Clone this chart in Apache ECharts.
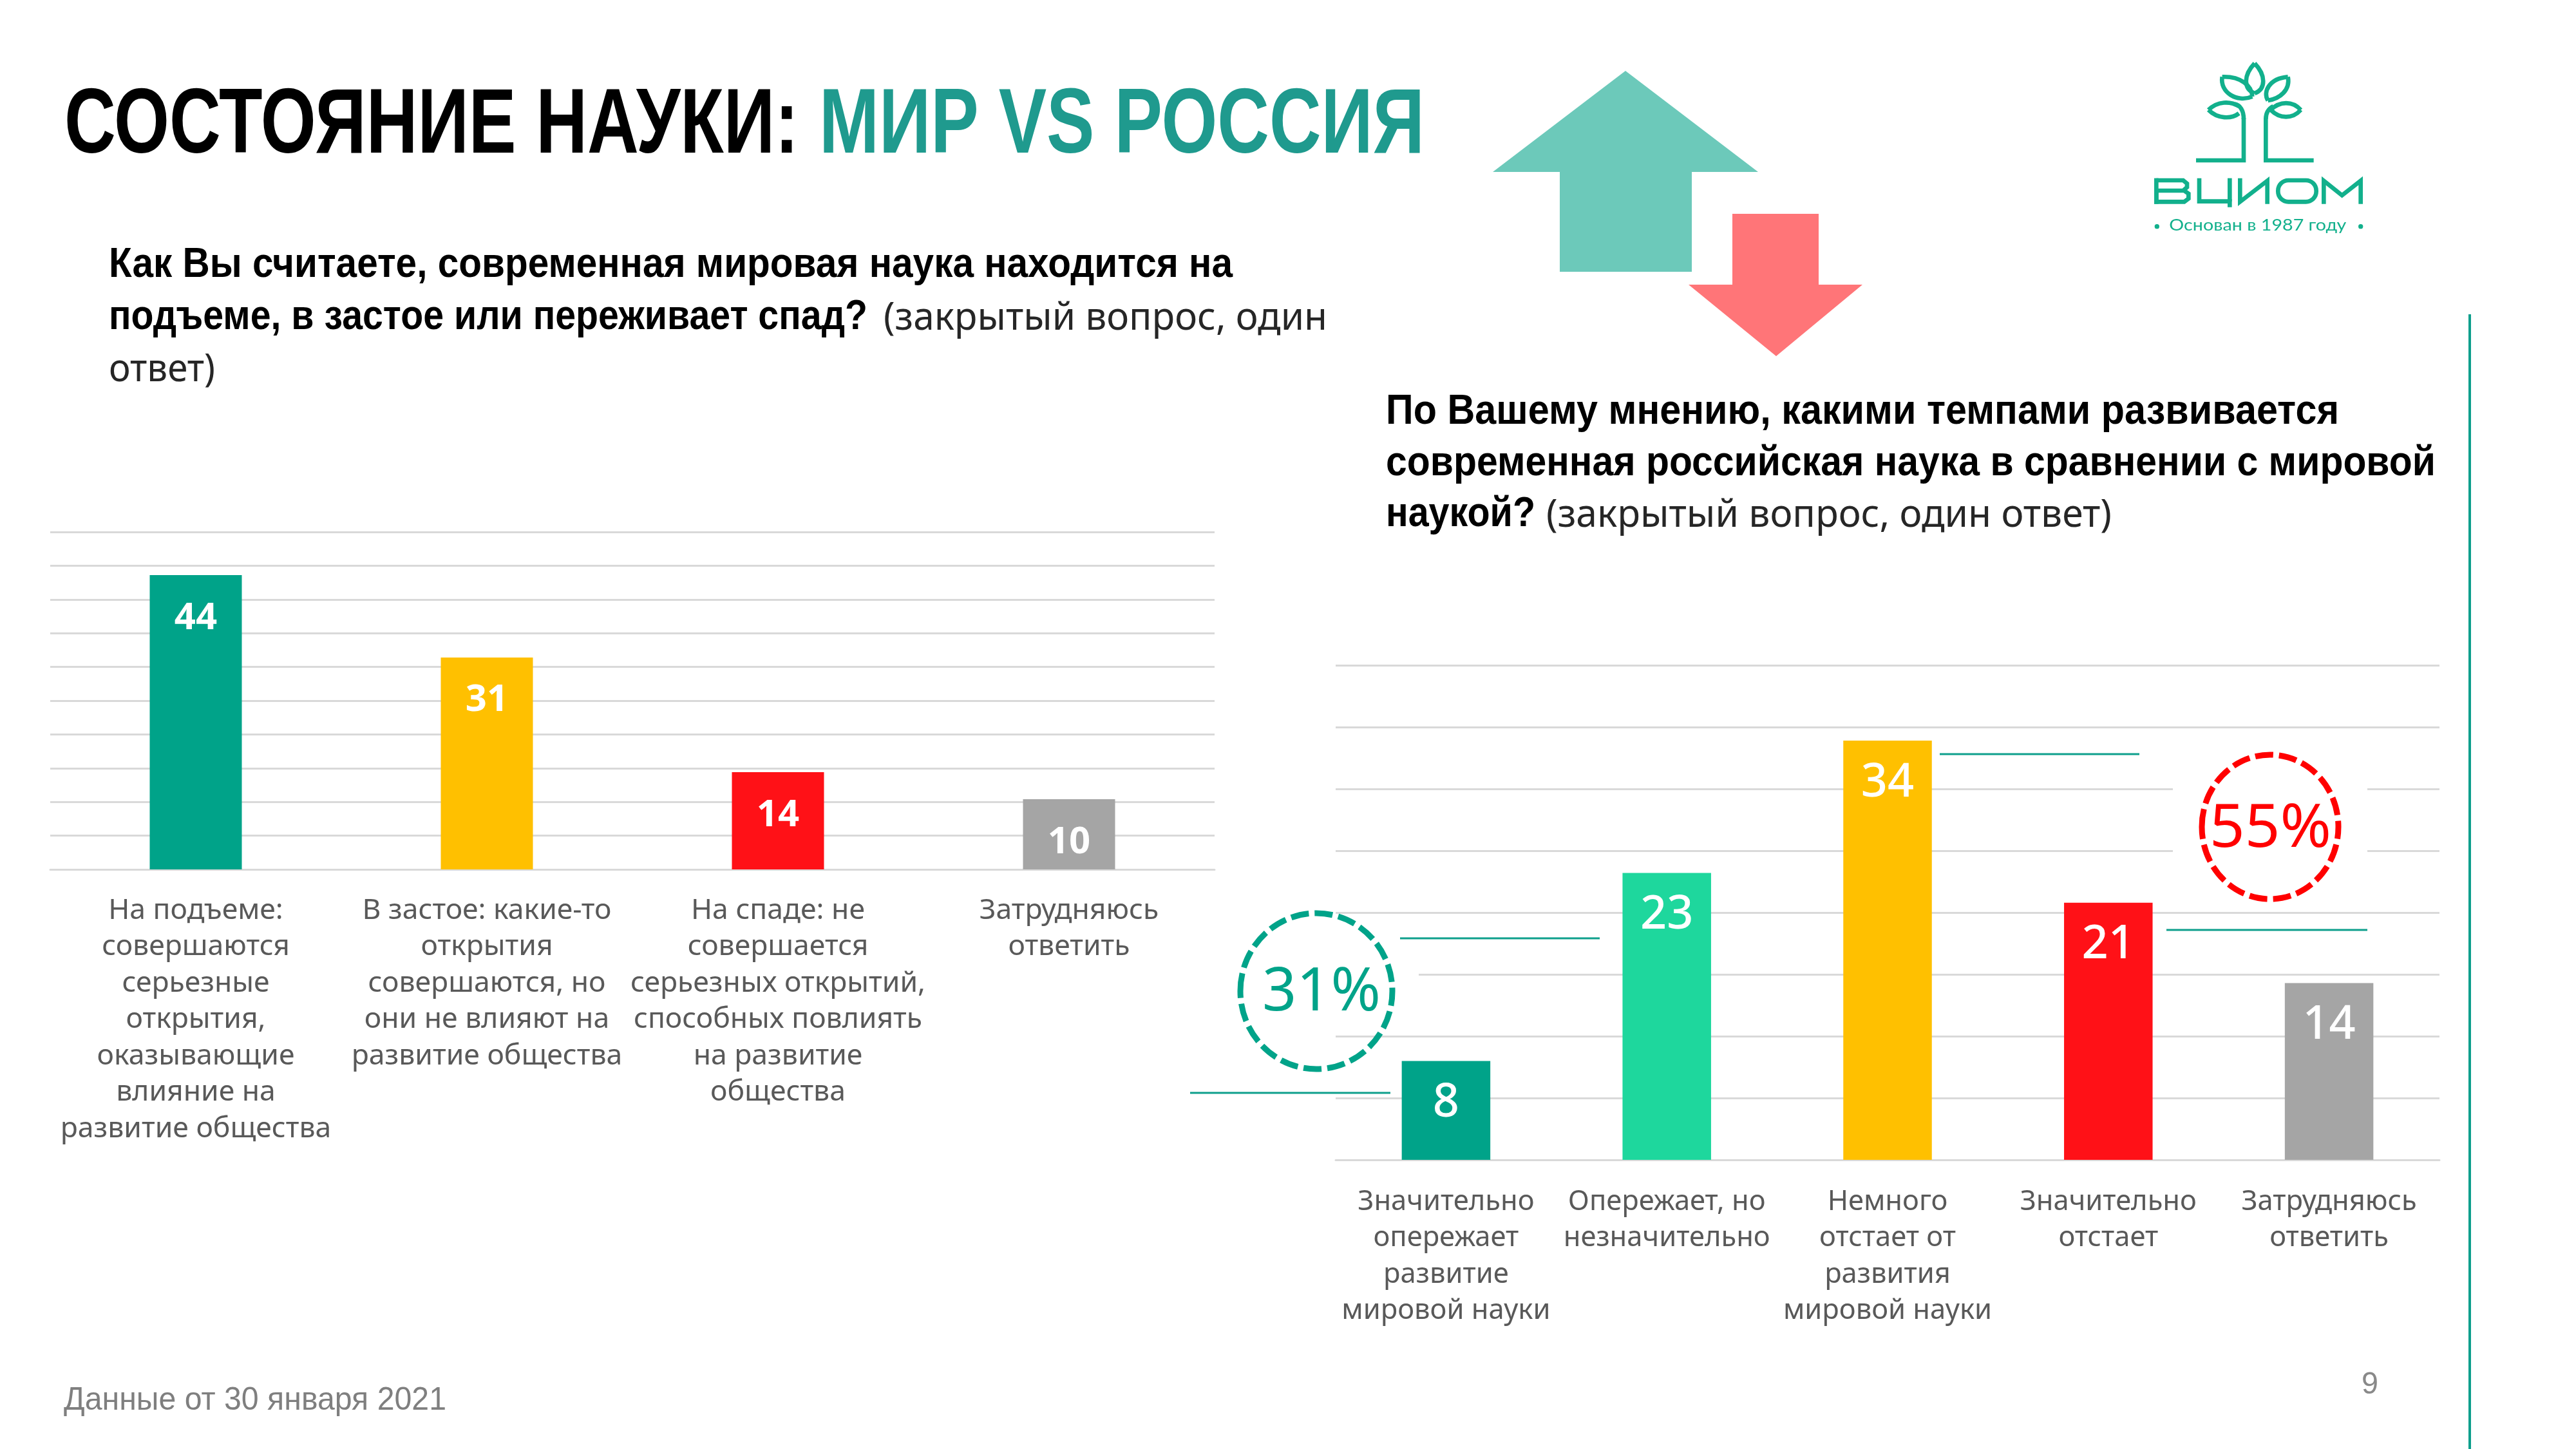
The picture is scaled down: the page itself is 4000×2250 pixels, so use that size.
<!DOCTYPE html>
<html>
<head>
<meta charset="utf-8">
<title>Состояние науки</title>
<script src="https://cdn.jsdelivr.net/npm/echarts@6/dist/echarts.min.js"></script>
<style>
  html, body { margin: 0; padding: 0; background: #fff; }
  #main { width: 4000px; height: 2250px; }
</style>
</head>
<body>
<div id="main"></div>
<script>
const worldCategories = [
  'На подъеме:\nсовершаются\nсерьезные\nоткрытия,\nоказывающие\nвлияние на\nразвитие общества',
  'В застое: какие-то\nоткрытия\nсовершаются, но\nони не влияют на\nразвитие общества',
  'На спаде: не\nсовершается\nсерьезных открытий,\nспособных повлиять\nна развитие\nобщества',
  'Затрудняюсь\nответить'
];
const worldValues = [43.6, 31.4, 14.4, 10.4];
const worldColors = ['#00A389', '#FFC000', '#FF1117', '#A5A5A5'];

const russiaCategories = [
  'Значительно\nопережает\nразвитие\nмировой науки',
  'Опережает, но\nнезначительно',
  'Немного\nотстает от\nразвития\nмировой науки',
  'Значительно\nотстает',
  'Затрудняюсь\nответить'
];
const russiaValues = [8, 23.2, 33.9, 20.8, 14.3];
const russiaColors = ['#00A389', '#1ED79D', '#FFC000', '#FF1117', '#A5A5A5'];

const GREY = '#D9D9D9';
const TEAL = '#00A389';
const LOGO = '#12B08C';
const BOLD = 'bold 64px "Liberation Sans"';
const REG = '60px "Noto Sans"';

const ctx = document.createElement('canvas').getContext('2d');

// text run squeezed to the width it has in the picture
function run(text, x, base, width, font, fill, z) {
  ctx.font = font;
  const size = parseInt(font.match(/(\d+)px/)[1], 10);
  return {
    type: 'text', x: x, y: base - 0.34 * size, z: z || 10,
    scaleX: width / ctx.measureText(text).width,
    style: { text: text, font: font, fill: fill, textAlign: 'left', textVerticalAlign: 'middle' }
  };
}
function hline(x1, x2, y) {
  return { type: 'line', z: 10, shape: { x1: x1, y1: y, x2: x2, y2: y }, style: { stroke: '#0E9F8C', lineWidth: 3 } };
}
function mask(x, y, w, h) {
  return { type: 'rect', z: 5, shape: { x: x, y: y, width: w, height: h }, style: { fill: '#fff' } };
}
function ring(cx, cy, rx, ry, color) {
  return {
    type: 'ellipse', z: 10, shape: { cx: cx, cy: cy, rx: rx, ry: ry },
    style: { fill: 'none', stroke: color, lineWidth: 9, lineDash: [28, 9] }
  };
}
function arrow(points, fill) {
  return { type: 'polygon', z: 10, shape: { points: points }, style: { fill: fill } };
}

// logo is drawn in the coordinates of a 3x crop, then scaled down
const logoStroke = { fill: 'none', stroke: LOGO, lineWidth: 20 };
function curve(x1, y1, cx1, cy1, cx2, cy2, x2, y2) {
  return { type: 'bezierCurve', shape: { x1: x1, y1: y1, cpx1: cx1, cpy1: cy1, cpx2: cx2, cpy2: cy2, x2: x2, y2: y2 }, style: logoStroke };
}
function poly(points) {
  return { type: 'polyline', shape: { points: points }, style: logoStroke };
}
function buildLogo() {
  const tagFont = '76px "Lato"';
  const tag = run('Основан в 1987 году', 205, 925, 825, tagFont, LOGO);
  return {
    type: 'group', x: 3300, y: 50, scaleX: 1 / 3, scaleY: 1 / 3, z: 10,
    children: [
      curve(603, 145, 550, 200, 550, 265, 603, 285), curve(603, 145, 656, 200, 656, 265, 603, 285),
      curve(452, 208, 540, 205, 590, 250, 592, 300), curve(452, 208, 440, 280, 520, 330, 592, 300),
      curve(758, 208, 670, 215, 640, 280, 665, 318), curve(758, 208, 770, 270, 720, 310, 665, 318),
      curve(388, 362, 430, 320, 490, 320, 530, 345), curve(388, 362, 430, 405, 495, 405, 530, 378),
      curve(510, 335, 535, 338, 552, 365, 552, 405), poly([[552, 400], [552, 597], [330, 597]]),
      curve(678, 362, 720, 320, 780, 320, 818, 362), curve(678, 362, 720, 405, 780, 405, 818, 362),
      curve(655, 405, 655, 375, 670, 355, 690, 345), poly([[655, 400], [655, 597], [878, 597]]),
      poly([[145, 690], [270, 690], [288, 705], [288, 722], [270, 738], [145, 738], [145, 790], [275, 790], [295, 775], [295, 752], [275, 738]]),
      poly([[145, 680], [145, 800]]),
      poly([[345, 680], [345, 788], [487, 788], [487, 815]]), poly([[487, 680], [487, 788]]),
      poly([[535, 680], [535, 790], [662, 692], [662, 800]]),
      { type: 'rect', shape: { x: 712, y: 690, width: 178, height: 100, r: 48 }, style: logoStroke },
      poly([[925, 800], [925, 692], [1010, 760], [1097, 692], [1097, 800]]),
      { type: 'circle', shape: { cx: 148, cy: 905, r: 11 }, style: { fill: LOGO } },
      { type: 'circle', shape: { cx: 1097, cy: 905, r: 11 }, style: { fill: LOGO } },
      tag
    ]
  };
}

const chart = echarts.init(document.getElementById('main'));

function catAxis(gridIndex, data, margin, fontSize) {
  return {
    type: 'category', gridIndex: gridIndex, data: data,
    axisLine: { lineStyle: { color: GREY, width: 3 } },
    axisTick: { show: false },
    axisLabel: {
      interval: 0, margin: margin, color: '#595959', fontFamily: 'Noto Sans',
      fontSize: fontSize, lineHeight: 56.5, align: 'center', hideOverlap: false
    }
  };
}
function valAxis(gridIndex, max) {
  return {
    type: 'value', gridIndex: gridIndex, min: 0, max: max, interval: 5,
    axisLabel: { show: false }, axisLine: { show: false }, axisTick: { show: false },
    splitLine: { lineStyle: { color: GREY, width: 3 } }
  };
}
function barSeries(index, values, colors, width, label) {
  return {
    type: 'bar', xAxisIndex: index, yAxisIndex: index, barWidth: width,
    data: values.map((v, i) => ({ value: v, itemStyle: { color: colors[i] } })),
    label: Object.assign({
      show: true, position: 'insideTop', color: '#fff', fontFamily: 'Noto Sans',
      formatter: p => Math.round(p.value)
    }, label)
  };
}

chart.setOption({
  animation: false,
  backgroundColor: '#fff',
  grid: [
    { left: 78, top: 826, width: 1808, height: 524 },
    { left: 2074, top: 1033, width: 1714, height: 768 }
  ],
  xAxis: [catAxis(0, worldCategories, 36, 44.5), catAxis(1, russiaCategories, 37, 43.5)],
  yAxis: [valAxis(0, 50), valAxis(1, 40)],
  series: [
    barSeries(0, worldValues, worldColors, 143, { fontSize: 58, fontWeight: 'bold', distance: 38 }),
    barSeries(1, russiaValues, russiaColors, 137.5, { fontSize: 72, fontWeight: 500, distance: 30 })
  ],
  graphic: { elements: [
    run('СОСТОЯНИЕ НАУКИ:', 100, 246, 1140, 'bold 142px "Liberation Sans"', '#000'),
    run('МИР VS РОССИЯ', 1272, 246, 940, 'bold 142px "Liberation Sans"', '#1F9A8E'),

    run('Как Вы считаете, современная мировая наука находится на', 169, 434, 1745, BOLD, '#000'),
    run('подъеме, в застое или переживает спад?', 169, 515, 1178, BOLD, '#000'),
    run('(закрытый вопрос, один', 1372, 515, 689, REG, '#262626'),
    run('ответ)', 169, 595, 165, REG, '#262626'),

    run('По Вашему мнению, какими темпами развивается', 2152, 662, 1480, BOLD, '#000'),
    run('современная российская наука в сравнении с мировой', 2152, 742, 1630, BOLD, '#000'),
    run('наукой?', 2152, 821, 232, BOLD, '#000'),
    run('(закрытый вопрос, один ответ)', 2401, 821, 878, REG, '#262626'),

    arrow([[2524, 110], [2730, 267], [2627, 267], [2627, 422], [2422, 422], [2422, 267], [2318, 267]], '#6CC9BA'),
    arrow([[2690, 332], [2824, 332], [2824, 442], [2892, 442], [2758, 553], [2622, 442], [2690, 442]], '#FF7578'),

    buildLogo(),

    { type: 'rect', z: 10, shape: { x: 3833, y: 488, width: 4, height: 1762 }, style: { fill: '#0E9F8C' } },

    mask(3374, 1190, 302, 210),
    mask(2074, 1465, 129, 105),
    hline(3012, 3322, 1171),
    hline(3364, 3676, 1444),
    hline(2174, 2484, 1457),
    hline(1848, 2159, 1697),
    ring(3525, 1284, 106, 112, '#FF0000'),
    ring(2044, 1539, 118, 121, TEAL),
    run('55%', 3431, 1320, 189, '94px "Noto Sans"', '#FF0000'),
    run('31%', 1960, 1574, 184, '94px "Noto Sans"', TEAL),

    run('Данные от 30 января 2021', 99, 2192, 594, '50px "Liberation Sans"', '#7F7F7F'),
    run('9', 3667, 2167, 26, '48px "Liberation Sans"', '#898989')
  ] }
});
</script>
</body>
</html>
